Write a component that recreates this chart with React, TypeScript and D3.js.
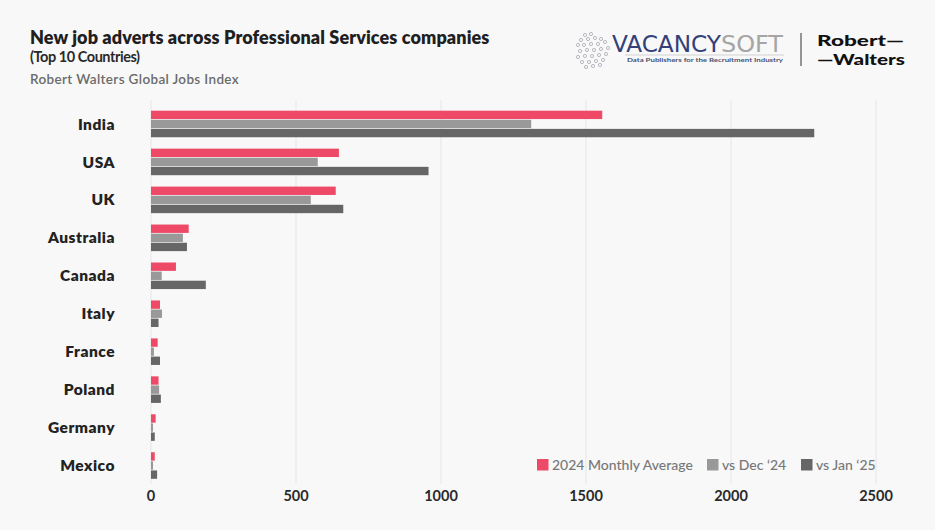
import { useEffect } from "react";
import { scaleLinear, scaleBand } from "d3";

const countries = ["India", "USA", "UK", "Australia", "Canada", "Italy", "France", "Poland", "Germany", "Mexico"];
const seriesNames = ["2024 Monthly Average", "vs Dec ‘24", "vs Jan ‘25"];
const avg2024 = [1556, 648, 637, 130, 86, 31, 23, 26, 16, 13];
const vsDec24 = [1311, 575, 551, 110, 37, 38, 10, 28, 7, 7];
const vsJan25 = [2287, 957, 663, 124, 189, 26, 31, 34, 13, 21];
const xTicks = [0, 500, 1000, 1500, 2000, 2500];
const colors = ["#ee4a68", "#999999", "#666666"];

const width = 935;
const height = 530;
const font = "Lato, 'Noto Sans', sans-serif";

// logo dots for the vacancysoft mark
const logoDots = [
  [8, 2], [14, 1], [4, 7], [11, 6], [18, 5], [24, 6], [1, 12], [7, 12], [14, 11], [21, 11], [28, 9],
  [3, 18], [10, 17], [17, 17], [24, 16], [31, 15], [1, 24], [8, 23], [15, 23], [22, 22], [29, 21],
  [5, 29], [12, 29], [19, 28], [26, 27], [9, 34], [16, 33], [23, 32],
];

export default function App() {
  useEffect(() => {
    document.body.style.margin = "0";
  }, []);

  const x = scaleLinear().domain([0, 2500]).range([151, 876]);
  const y = scaleBand<string>()
    .domain(countries)
    .range([105, 484.5])
    .paddingInner(0.3)
    .paddingOuter(0.15);
  const sub = scaleBand<number>()
    .domain([0, 1, 2])
    .range([0, y.bandwidth()])
    .paddingInner(0.08);
  const series = [avg2024, vsDec24, vsJan25];

  const legendX = [537, 707, 801];

  return (
    <svg width={width} height={height} style={{ display: "block", background: "#f8f8f8", fontFamily: font }}>
      <rect width={width} height={height} fill="#f8f8f8" />

      {/* titles */}
      <text x={30} y={43.5} fontSize={18} fontWeight={800} fill="#1f1f1f" letterSpacing={0.1}>
        New job adverts across Professional Services companies
      </text>
      <text x={30} y={62} fontSize={14.5} fontWeight={700} fill="#2a2a2a" letterSpacing={-0.45}>
        (Top 10 Countries)
      </text>
      <text x={30} y={83.5} fontSize={13.5} fontWeight={600} fill="#6b6b6b" letterSpacing={0.35}>
        Robert Walters Global Jobs Index
      </text>

      {/* vacancysoft logo */}
      <g transform="translate(577,33)">
        {logoDots.map(([dx, dy], i) => (
          <circle key={i} cx={dx} cy={dy} r={1.6} fill="none" stroke="#a8a8b4" strokeWidth={0.8} />
        ))}
      </g>
      <text x={612} y={52} fontSize={23} fontWeight={300} fill="#33407a" fontFamily="'DejaVu Sans Condensed', sans-serif" textLength={109} lengthAdjust="spacingAndGlyphs">
        VACANCY
      </text>
      <text x={721} y={52} fontSize={23} fontWeight={300} fill="#a5a5a5" fontFamily="'DejaVu Sans Condensed', sans-serif" textLength={62} lengthAdjust="spacingAndGlyphs">
        SOFT
      </text>
      <line x1={625} x2={784} y1={55} y2={55} stroke="#b8b8b8" strokeWidth={0.6} />
      <text x={627} y={62} fontSize={6} fontWeight={700} fill="#4a5070" textLength={156} lengthAdjust="spacingAndGlyphs">
        Data Publishers for the Recruitment Industry
      </text>
      <line x1={801} x2={801} y1={33} y2={66} stroke="#333" strokeWidth={1} />
      <text x={817} y={45.5} fontSize={15.5} fontWeight={900} fill="#111" textLength={87} lengthAdjust="spacingAndGlyphs">
        Robert—
      </text>
      <text x={817} y={64.5} fontSize={15.5} fontWeight={900} fill="#111" textLength={88} lengthAdjust="spacingAndGlyphs">
        —Walters
      </text>

      {/* grid */}
      {xTicks.map((t) => (
        <line key={t} x1={x(t)} x2={x(t)} y1={100} y2={484} stroke="#e6e6e6" strokeWidth={1} />
      ))}

      {/* bars */}
      {countries.map((c, i) => (
        <g key={c} transform={`translate(0,${y(c)})`}>
          {series.map((s, k) => (
            <rect
              key={k}
              x={x(0)}
              y={sub(k)}
              width={x(s[i]) - x(0)}
              height={sub.bandwidth()}
              fill={colors[k]}
            />
          ))}
          <text
            x={115}
            y={y.bandwidth() / 2}
            dy="0.36em"
            textAnchor="end"
            fontSize={15.5}
            fontWeight={800}
            fill="#222"
            letterSpacing={0.5}
          >
            {c}
          </text>
        </g>
      ))}

      {/* x tick labels */}
      {xTicks.map((t) => (
        <text key={t} x={x(t)} y={501} textAnchor="middle" fontSize={14.5} fontWeight={700} fill="#2a2a2a">
          {t}
        </text>
      ))}

      {/* legend */}
      {seriesNames.map((n, k) => (
        <g key={n} transform={`translate(${legendX[k]},459)`}>
          <rect width={11.5} height={11.5} fill={colors[k]} />
          <text x={15} y={11} fontSize={14} fontWeight={500} fill="#777">
            {n}
          </text>
        </g>
      ))}
    </svg>
  );
}
